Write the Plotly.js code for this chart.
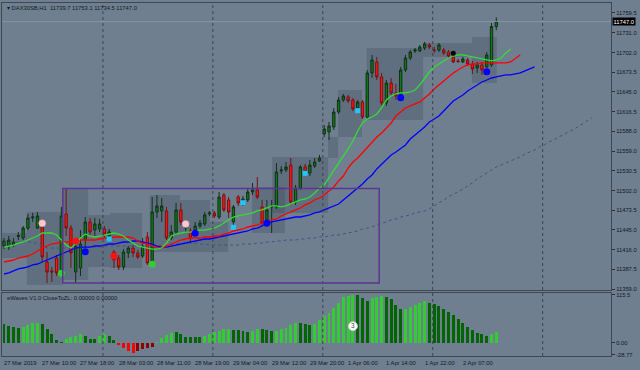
<!DOCTYPE html>
<html><head><meta charset="utf-8">
<script src="https://cdn.plot.ly/plotly-3.0.1.min.js"></script>
<style>html,body{margin:0;padding:0;background:#6f7f90;}#chart{width:640px;height:370px;}</style>
</head><body><div id="chart"></div>
<script>
// ---------- DATA ----------
const symbolTitle = "\u25BE DAX30SB,H1  11739.7 11753.1 11734.5 11747.0";
const subTitle = "eWaves V1.0 CloseToZL: 0.00000 0.00000";
const lastPrice = 11747.0;

const timeLabelBars = [0, 8, 16, 24, 32, 40, 48, 56, 64, 72, 80, 88, 96];
const timeLabels = ["27 Mar 2019", "27 Mar 10:00", "27 Mar 18:00", "28 Mar 03:00", "28 Mar 11:00", "28 Mar 19:00",
  "29 Mar 04:00", "29 Mar 12:00", "29 Mar 20:00", "1 Apr 06:00", "1 Apr 14:00", "1 Apr 22:00", "2 Apr 07:00"];
const daySeparators = [20.7, 43.7, 66.7, 89.7, 112.7];

const priceTicks = [11759.5, 11731.0, 11702.0, 11673.5, 11645.0, 11616.5, 11588.0, 11559.0, 11530.5, 11502.0, 11473.5, 11445.0, 11416.0, 11387.5, 11359.0];
const waveTicks = [115.5, 0, -28.77];
const waveTickText = ["115.5", "0.00", "-28.77"];

const open = [11421.4, 11421.4, 11422.8, 11435.2, 11433.0, 11447.5, 11462.1, 11447.5, 11449.0, 11398.2,
 11385.2, 11404.0, 11386.6, 11467.9, 11447.5, 11383.7, 11389.5, 11430.1, 11456.3, 11444.6,
 11446.1, 11446.1, 11435.9, 11412.7, 11404.0, 11391.0, 11411.3, 11418.5, 11411.3, 11406.9,
 11434.5, 11395.3, 11470.8, 11472.3, 11472.3, 11433.0, 11441.7, 11473.7, 11447.5, 11443.2,
 11441.7, 11450.5, 11453.4, 11467.9, 11469.4, 11463.5, 11495.4, 11488.2, 11456.3, 11492.5,
 11482.4, 11488.2, 11499.8, 11502.7, 11478.1, 11459.2, 11478.1, 11478.1, 11530.3, 11531.7,
 11538.9, 11485.3, 11505.6, 11536.1, 11527.4, 11537.5, 11544.8, 11584.0, 11586.9, 11594.1,
 11615.9, 11633.3, 11637.7, 11633.3, 11621.7, 11630.4, 11608.6, 11672.5, 11688.4, 11666.7,
 11628.9, 11657.9, 11643.5, 11640.6, 11676.8, 11694.2, 11704.4, 11704.4, 11708.7, 11713.1,
 11705.8, 11705.8, 11705.8, 11702.9, 11695.7, 11689.9, 11688.4, 11691.3, 11685.5, 11679.7,
 11684.1, 11681.2, 11684.1, 11739.7];
const high = [11433.0, 11435.9, 11433.0, 11441.7, 11450.5, 11467.9, 11469.4, 11470.8, 11456.3, 11412.7,
 11391.0, 11408.4, 11478.1, 11504.1, 11451.9, 11430.1, 11444.6, 11463.5, 11462.1, 11462.1,
 11460.6, 11450.5, 11446.1, 11415.6, 11408.4, 11417.0, 11421.4, 11422.8, 11415.6, 11433.0,
 11441.7, 11492.5, 11495.4, 11491.1, 11478.1, 11451.9, 11483.9, 11483.9, 11456.3, 11447.5,
 11456.3, 11459.2, 11470.8, 11472.3, 11472.3, 11499.8, 11498.3, 11492.5, 11481.0, 11495.4,
 11494.0, 11505.6, 11512.9, 11521.5, 11488.2, 11488.2, 11488.2, 11541.9, 11537.5, 11543.3,
 11549.1, 11510.0, 11538.9, 11540.4, 11546.2, 11549.1, 11553.5, 11597.0, 11601.4, 11621.7,
 11637.7, 11642.0, 11640.6, 11636.2, 11633.3, 11633.3, 11676.8, 11698.6, 11695.7, 11672.5,
 11662.3, 11665.2, 11656.5, 11681.2, 11698.6, 11705.8, 11708.7, 11713.1, 11717.5, 11716.0,
 11710.2, 11716.0, 11708.7, 11705.8, 11704.4, 11692.8, 11695.7, 11694.2, 11689.9, 11688.4,
 11688.4, 11702.9, 11745.0, 11753.1];
const low = [11417.0, 11415.6, 11419.9, 11430.1, 11430.1, 11444.6, 11456.3, 11446.1, 11398.2, 11367.7,
 11369.2, 11377.9, 11379.3, 11435.9, 11389.5, 11367.7, 11377.9, 11418.5, 11437.4, 11435.9,
 11441.7, 11433.0, 11433.0, 11389.5, 11386.6, 11386.6, 11404.0, 11405.5, 11402.6, 11404.0,
 11393.9, 11392.4, 11462.1, 11456.3, 11430.1, 11430.1, 11438.8, 11451.9, 11441.7, 11427.2,
 11438.8, 11447.5, 11450.5, 11465.0, 11462.1, 11460.6, 11470.8, 11462.1, 11451.9, 11479.5,
 11479.5, 11485.3, 11495.4, 11489.6, 11450.5, 11453.4, 11440.3, 11475.2, 11525.9, 11528.8,
 11481.0, 11481.0, 11502.7, 11525.9, 11523.0, 11534.6, 11543.3, 11579.6, 11575.2, 11589.8,
 11613.0, 11630.4, 11628.9, 11617.3, 11618.8, 11605.7, 11605.7, 11665.2, 11662.3, 11626.0,
 11624.6, 11640.6, 11633.3, 11636.2, 11673.9, 11691.3, 11701.5, 11702.9, 11705.8, 11707.3,
 11701.5, 11702.9, 11698.6, 11694.2, 11687.0, 11687.0, 11687.0, 11682.6, 11671.0, 11672.5,
 11669.6, 11672.5, 11681.2, 11734.5];
const close = [11428.7, 11430.1, 11427.2, 11436.6, 11447.5, 11462.1, 11463.5, 11465.0, 11405.5, 11383.7,
 11383.7, 11382.3, 11465.0, 11447.5, 11411.3, 11421.4, 11424.3, 11456.3, 11441.7, 11453.4,
 11453.4, 11438.8, 11441.7, 11401.1, 11391.0, 11412.7, 11418.5, 11411.3, 11405.5, 11421.4,
 11396.8, 11470.8, 11479.5, 11479.5, 11433.0, 11441.7, 11473.7, 11456.3, 11453.4, 11433.0,
 11450.5, 11454.8, 11466.5, 11469.4, 11465.0, 11492.5, 11473.7, 11470.8, 11478.1, 11483.9,
 11489.6, 11499.8, 11502.7, 11492.5, 11454.8, 11473.7, 11479.5, 11528.8, 11531.7, 11536.1,
 11485.3, 11505.6, 11536.1, 11528.8, 11538.9, 11543.3, 11549.1, 11591.2, 11595.6, 11615.9,
 11633.3, 11639.1, 11631.9, 11620.2, 11630.4, 11608.6, 11672.5, 11691.3, 11666.7, 11628.9,
 11657.9, 11643.5, 11639.1, 11676.8, 11694.2, 11702.9, 11705.8, 11710.2, 11714.6, 11710.2,
 11705.1, 11713.1, 11701.5, 11697.1, 11688.4, 11689.2, 11692.8, 11685.5, 11678.3, 11684.1,
 11676.8, 11698.6, 11739.9, 11747.0];

// Alligator-style averages (drawn shifted forward, so they run past the last bar)
const lipsGreen = [11419.9, 11421.4, 11422.8, 11425.7, 11427.2, 11430.1, 11433.0, 11435.9, 11440.3, 11440.3,
 11440.3, 11437.4, 11430.1, 11422.8, 11418.5, 11424.3, 11433.0, 11438.8, 11435.9, 11434.5,
 11435.9, 11437.4, 11438.8, 11440.3, 11438.8, 11435.9, 11430.1, 11425.7, 11421.4, 11419.9,
 11418.5, 11417.0, 11417.0, 11418.5, 11425.7, 11435.9, 11438.8, 11440.3, 11441.7, 11441.7,
 11443.2, 11444.6, 11444.6, 11446.1, 11447.5, 11450.5, 11454.8, 11459.2, 11463.5, 11465.0,
 11466.5, 11467.9, 11469.4, 11472.3, 11473.7, 11476.6, 11479.5, 11479.5, 11478.1, 11479.5,
 11482.4, 11485.3, 11488.2, 11489.6, 11492.5, 11498.3, 11505.6, 11510.0, 11520.1, 11531.7,
 11540.4, 11550.6, 11562.2, 11573.8, 11588.3, 11599.9, 11605.7, 11608.6, 11613.0, 11621.7,
 11633.3, 11639.1, 11642.0, 11643.5, 11643.5, 11644.9, 11647.8, 11655.1, 11665.2, 11673.9,
 11681.2, 11685.5, 11689.9, 11694.2, 11697.1, 11698.6, 11698.6, 11697.1, 11695.7, 11694.2,
 11692.8, 11691.3, 11689.9, 11691.3, 11694.2, 11701.5, 11707.3];
const teethRed = [11398.2, 11399.7, 11401.1, 11404.0, 11405.5, 11406.9, 11409.8, 11414.2, 11418.5, 11421.4,
 11424.3, 11425.7, 11427.2, 11427.2, 11427.2, 11428.7, 11430.1, 11430.1, 11430.1, 11430.1,
 11431.6, 11433.0, 11433.0, 11434.5, 11434.5, 11434.5, 11434.5, 11433.0, 11428.7, 11425.7,
 11424.3, 11421.4, 11418.5, 11418.5, 11421.4, 11424.3, 11427.2, 11430.1, 11431.6, 11433.0,
 11433.0, 11433.0, 11434.5, 11434.5, 11435.9, 11435.9, 11438.8, 11440.3, 11443.2, 11444.6,
 11446.1, 11449.0, 11450.5, 11451.9, 11454.8, 11457.7, 11459.2, 11460.6, 11465.0, 11467.9,
 11470.8, 11473.7, 11476.6, 11481.0, 11483.9, 11488.2, 11491.1, 11495.5, 11501.3, 11507.1,
 11515.8, 11523.0, 11534.6, 11543.3, 11549.1, 11556.4, 11565.1, 11572.3, 11579.6, 11585.4,
 11592.7, 11599.9, 11610.1, 11615.9, 11621.7, 11624.6, 11627.5, 11630.4, 11636.2, 11642.0,
 11649.3, 11655.1, 11660.9, 11666.7, 11672.5, 11676.8, 11681.2, 11684.1, 11685.5, 11685.5,
 11687.0, 11687.0, 11687.0, 11687.0, 11687.0, 11687.0, 11688.4, 11694.2, 11698.6];
const jawBlue = [11380.8, 11382.3, 11385.2, 11388.1, 11389.5, 11391.0, 11393.9, 11395.3, 11398.2, 11401.1,
 11404.0, 11406.9, 11409.8, 11412.7, 11415.6, 11418.5, 11419.9, 11419.9, 11419.9, 11421.4,
 11421.4, 11422.8, 11424.3, 11424.3, 11425.7, 11427.2, 11427.2, 11428.7, 11428.7, 11427.2,
 11425.7, 11424.3, 11421.4, 11419.9, 11419.9, 11421.4, 11422.8, 11424.3, 11425.7, 11427.2,
 11428.7, 11430.1, 11431.6, 11431.6, 11433.0, 11434.5, 11435.9, 11437.4, 11438.8, 11440.3,
 11441.7, 11443.2, 11446.1, 11447.5, 11450.5, 11454.8, 11456.3, 11457.7, 11459.2, 11460.6,
 11462.1, 11463.5, 11463.5, 11465.0, 11466.5, 11469.4, 11470.8, 11473.7, 11476.6, 11479.5,
 11482.4, 11488.2, 11494.0, 11499.8, 11505.6, 11511.4, 11518.7, 11524.5, 11533.2, 11540.4,
 11547.7, 11553.5, 11557.8, 11563.6, 11568.0, 11576.7, 11582.5, 11588.3, 11594.1, 11601.4,
 11605.7, 11610.1, 11617.3, 11624.6, 11631.9, 11636.2, 11640.6, 11646.4, 11650.7, 11655.1,
 11659.4, 11662.3, 11665.2, 11666.7, 11668.1, 11669.6, 11669.6, 11671.1, 11672.5, 11675.4,
 11678.3, 11681.2];
const slowDotted = [11427.2, 11427.2, 11427.2, 11427.2, 11427.2, 11427.2, 11427.2, 11424.3, 11421.4, 11418.5,
 11418.5, 11418.5, 11418.5, 11418.5, 11418.5, 11418.5, 11419.9, 11419.9, 11419.9, 11419.9,
 11419.9, 11421.4, 11421.4, 11421.4, 11421.4, 11421.4, 11421.4, 11421.4, 11421.4, 11421.4,
 11421.4, 11421.4, 11421.4, 11422.8, 11422.8, 11424.3, 11424.3, 11425.7, 11425.7, 11425.7,
 11425.7, 11424.3, 11424.3, 11422.8, 11422.8, 11422.8, 11422.8, 11422.8, 11422.8, 11422.8,
 11424.3, 11424.3, 11424.3, 11425.7, 11425.7, 11427.2, 11427.2, 11428.7, 11428.7, 11430.1,
 11430.1, 11430.1, 11431.6, 11431.6, 11433.0, 11433.0, 11434.5, 11434.5, 11435.9, 11437.4,
 11437.4, 11438.8, 11440.3, 11441.7, 11443.2, 11446.1, 11447.5, 11449.0, 11451.9, 11454.8,
 11456.3, 11459.2, 11460.6, 11463.5, 11465.0, 11466.5, 11469.4, 11470.8, 11472.3, 11475.2,
 11479.5, 11483.9, 11488.2, 11492.5, 11496.9, 11499.8, 11504.1, 11508.5, 11512.9, 11518.7,
 11523.0, 11527.4, 11531.7, 11536.1, 11538.9, 11541.9, 11544.8, 11547.7, 11550.6, 11555.0,
 11557.8, 11560.7, 11565.1, 11568.0, 11572.3, 11575.2, 11579.6, 11582.5, 11586.8, 11589.8,
 11594.1, 11598.5, 11602.8, 11607.2];

// eWaves histogram: value and state (U = strengthening, D = weakening)
const waveValues = [45.3, 41, 37, 35, 39, 43, 47, 48, 44.5, 33,
 21, 6, 1.5, 8, 13, 16, 20, 17, 9, 8.5,
 16, 21, 17, 6.5, -6, -14, -19, -24, -19, -16,
 -12, -10, 1.5, 12, 18.6, 24, 26, 20, 13, 13,
 13, 13, 17, 20, 25, 29, 32, 32, 31, 31,
 29, 25, 29, 32, 32, 31, 28, 28, 32, 36,
 43, 47, 47, 44.5, 42, 45, 55, 64.6, 72.6, 83,
 95, 110, 114, 115.5, 114.8, 107.4, 101.6, 107.4, 111.3, 111.8,
 110.8, 105, 91.2, 80.8, 81.5, 85.7, 91.2, 96.8, 101.6, 95.3,
 93.7, 88.8, 80.8, 75, 67, 56.6, 47, 38.7, 30.7, 24.2,
 21, 16.2, 21, 26.6];
const waveState = ["D","D","D","D","U","U","U","U","D","D",
 "D","D","D","U","U","U","U","D","D","D",
 "U","U","D","D","U","U","U","U","D","D",
 "D","D","U","U","U","U","D","D","D","D",
 "D","D","U","U","U","U","U","U","D","D",
 "D","D","U","U","D","D","D","U","U","U",
 "U","U","D","D","D","U","U","U","U","U",
 "U","U","U","U","D","D","D","U","U","U",
 "D","D","D","D","U","U","U","U","U","D",
 "D","D","D","D","D","D","D","D","D","D",
 "D","D","U","U"];
const waveLabelBar = 73, waveLabelValue = 40, waveLabelText = "3";

// signal dots
const pinkBars = [8, 38], pinkPrices = [11454.4, 11453.4];
const redBars = [15, 23], redPrices = [11428.7, 11407.0];
const greenBars = [12, 31], greenPrices = [11381.8, 11394.9];
const blueBars = [17, 40, 55, 83, 101], bluePrices = [11413.2, 11439.8, 11454.4, 11636.6, 11674.4];
const cyanBars = [22, 48, 50, 63, 74], cyanPrices = [11431.6, 11448.6, 11484.2, 11526.9, 11617.8];
const blackBars = [94], blackPrices = [11701.0];

// shaded range zones and the marked rectangle
const zoneStart = [-0.5, 4.8, 12.3, 17.6, 22.2, 30.5, 36.8, 43.1, 51.9, 56.1, 67.8, 69.9, 75.9, 87.7, 97.9];
const zoneEnd   = [4.8, 12.3, 17.6, 22.2, 28.9, 36.8, 43.1, 46.9, 58.8, 67.8, 69.9, 74.9, 87.7, 97.9, 103.1];
const zoneHigh  = [11440.3, 11470.8, 11505.6, 11466.5, 11469.4, 11495.4, 11488.2, 11456.3, 11507.1, 11550.6, 11579.6, 11647.8, 11708.7, 11716.0, 11724.7];
const zoneLow   = [11404.0, 11364.8, 11372.1, 11391.0, 11389.5, 11412.7, 11412.7, 11412.7, 11440.3, 11469.4, 11549.1, 11579.6, 11604.3, 11695.7, 11658.0];
const boxStartBar = 12.3, boxEndBar = 78.5, boxTop = 11505.0, boxBottom = 11367.7;

// ---------- BUILD ----------
const idx = n => Array.from({length: n}, (_, i) => i);
const barX = idx(open.length);
const waveColors = waveValues.map((v, i) => v >= 0 ? (waveState[i] === "U" ? "#33cc33" : "#006400") : (waveState[i] === "U" ? "#ff0000" : "#8b0000"));

const traces = [
  {type: "candlestick", x: barX, open: open, high: high, low: low, close: close, xaxis: "x", yaxis: "y",
   increasing: {line: {color: "#12301a", width: 1}, fillcolor: "#0c7a12"},
   decreasing: {line: {color: "#7a1010", width: 1}, fillcolor: "#ff1414"},
   whiskerwidth: 0, hoverinfo: "skip"},
  {type: "scatter", mode: "lines", x: idx(slowDotted.length), y: slowDotted, line: {color: "#4a4f82", width: 1, dash: "dot"}, hoverinfo: "skip"},
  {type: "scatter", mode: "lines", x: idx(jawBlue.length), y: jawBlue, line: {color: "#0000ff", width: 1.3}, hoverinfo: "skip"},
  {type: "scatter", mode: "lines", x: idx(teethRed.length), y: teethRed, line: {color: "#ff0000", width: 1.3}, hoverinfo: "skip"},
  {type: "scatter", mode: "lines", x: idx(lipsGreen.length), y: lipsGreen, line: {color: "#33dd33", width: 1.3}, hoverinfo: "skip"},
  {type: "scatter", mode: "markers", x: pinkBars, y: pinkPrices, marker: {color: "#ffc8d0", size: 7, line: {color: "#d89aa8", width: 0.5}}, hoverinfo: "skip"},
  {type: "scatter", mode: "markers", x: redBars, y: redPrices, marker: {color: "#ff1010", size: 7}, hoverinfo: "skip"},
  {type: "scatter", mode: "markers", x: greenBars, y: greenPrices, marker: {color: "#33cc33", size: 7}, hoverinfo: "skip"},
  {type: "scatter", mode: "markers", x: blueBars, y: bluePrices, marker: {color: "#0000ff", size: 7}, hoverinfo: "skip"},
  {type: "scatter", mode: "markers", x: cyanBars, y: cyanPrices, marker: {color: "#1ec8ff", size: 5, symbol: "square"}, hoverinfo: "skip"},
  {type: "scatter", mode: "markers", x: blackBars, y: blackPrices, marker: {color: "#000000", size: 5}, hoverinfo: "skip"},
  {type: "bar", x: barX, y: waveValues, xaxis: "x2", yaxis: "y2", width: 0.62, marker: {color: waveColors, line: {width: 0}}, hoverinfo: "skip"},
  {type: "scatter", mode: "markers+text", x: [waveLabelBar], y: [waveLabelValue], xaxis: "x2", yaxis: "y2",
   text: [waveLabelText], textposition: "middle center", textfont: {size: 6.5, color: "#444"},
   marker: {color: "#ffffff", size: 9, line: {color: "#cccccc", width: 1}}, hoverinfo: "skip"}
];

const shapes = [];
zoneStart.forEach((s, i) => shapes.push({type: "rect", xref: "x", yref: "y", x0: s, x1: zoneEnd[i], y0: zoneLow[i], y1: zoneHigh[i],
  fillcolor: "rgba(45,55,68,0.22)", line: {width: 0}, layer: "below"}));
daySeparators.forEach(d => shapes.push({type: "line", xref: "x", yref: "paper", x0: d, x1: d, y0: 0, y1: 1,
  line: {color: "#3b434d", width: 1, dash: "dot"}}));
shapes.push({type: "line", xref: "paper", yref: "y", x0: 0, x1: 1, y0: lastPrice, y1: lastPrice, line: {color: "#8593a1", width: 1}});
shapes.push({type: "rect", xref: "x", yref: "y", x0: boxStartBar, x1: boxEndBar, y0: boxBottom, y1: boxTop,
  line: {color: "#5c3590", width: 1.5}, fillcolor: "rgba(0,0,0,0)"});

const font = "Liberation Sans, Arial, sans-serif";
const fs = 5.8;
const annotations = timeLabels.map((t, i) => ({xref: "x", yref: "paper", x: timeLabelBars[i], y: 0, xanchor: "left", yanchor: "top",
  xshift: -2, yshift: -1.5, text: t, showarrow: false, font: {size: fs, color: "#15191e", family: font}}));
annotations.push({xref: "paper", yref: "paper", x: 0, y: 1, xanchor: "left", yanchor: "top", xshift: 3, yshift: 0,
  text: symbolTitle, showarrow: false, font: {size: fs, color: "#15191e", family: font}});
annotations.push({xref: "paper", yref: "y2 domain", x: 0, y: 1, xanchor: "left", yanchor: "top", xshift: 3, yshift: 0,
  text: subTitle, showarrow: false, font: {size: fs, color: "#15191e", family: font}});
annotations.push({xref: "paper", yref: "y", x: 1, y: lastPrice, xanchor: "left", yanchor: "middle", xshift: 1,
  text: lastPrice.toFixed(1), showarrow: false, bgcolor: "#000000", borderpad: 0.5, font: {size: fs, color: "#ffffff", family: font}});

const axisCommon = {showgrid: false, zeroline: false, showline: true, mirror: true, linecolor: "#3f4852", linewidth: 1, fixedrange: true};
const layout = {
  width: 640, height: 370,
  margin: {l: 2, r: 29, t: 3, b: 14},
  paper_bgcolor: "#6f7f90", plot_bgcolor: "#6f7f90",
  showlegend: false, bargap: 0,
  font: {family: font, size: fs, color: "#15191e"},
  xaxis: Object.assign({}, axisCommon, {domain: [0, 1], range: [-0.42, 127.0], anchor: "y", showticklabels: false, ticks: "", rangeslider: {visible: false}}),
  xaxis2: Object.assign({}, axisCommon, {domain: [0, 1], matches: "x", anchor: "y2", showticklabels: false, ticks: ""}),
  yaxis: Object.assign({}, axisCommon, {domain: [0.187, 1], range: [11357.6, 11774.0], side: "right", anchor: "x",
    tickvals: priceTicks, ticktext: priceTicks.map(v => v.toFixed(1)), ticks: "outside", ticklen: 3, tickcolor: "#2a3038", tickfont: {size: fs}}),
  yaxis2: Object.assign({}, axisCommon, {domain: [0, 0.1785], range: [-32.2, 120.3], side: "right", anchor: "x2",
    tickvals: waveTicks, ticktext: waveTickText, ticks: "outside", ticklen: 3, tickcolor: "#2a3038", tickfont: {size: fs}}),
  shapes: shapes,
  annotations: annotations
};
Plotly.newPlot("chart", traces, layout, {staticPlot: true, displayModeBar: false});
</script></body></html>
